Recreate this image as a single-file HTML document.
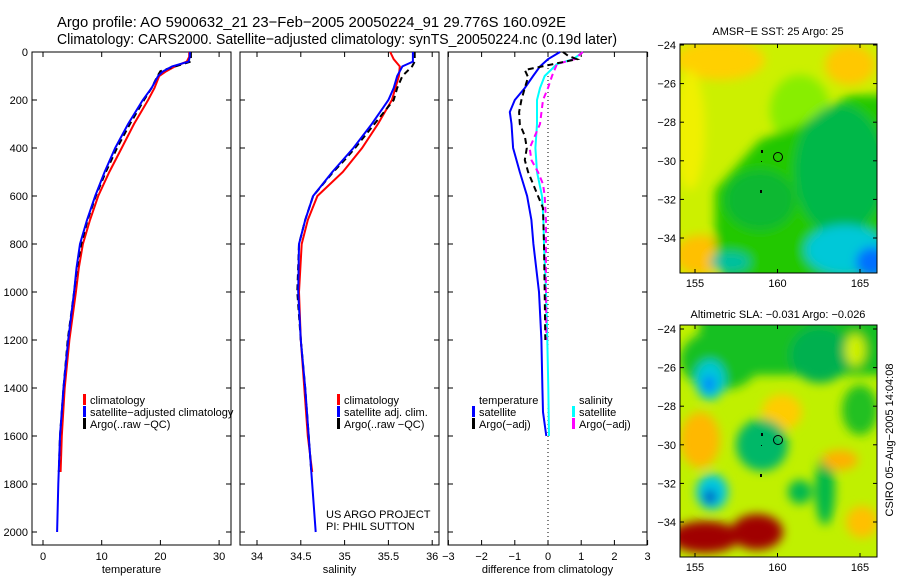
<!DOCTYPE html>
<html><head><meta charset="utf-8">
<style>
html,body{margin:0;padding:0;background:#fff;}
body{width:900px;height:580px;overflow:hidden;font-family:"Liberation Sans",sans-serif;}
svg text{font-family:"Liberation Sans",sans-serif;}
</style></head>
<body>
<svg id="chart" width="900" height="580" viewBox="0 0 900 580" xmlns="http://www.w3.org/2000/svg">
<defs>
<filter id="blur" x="-20%" y="-20%" width="140%" height="140%"><feGaussianBlur stdDeviation="5"/></filter>
<clipPath id="clipMap1"><rect x="680" y="44" width="197" height="229"/></clipPath>
<clipPath id="clipMap2"><rect x="680" y="325" width="197" height="232"/></clipPath>
</defs>
<text x="57" y="27" font-size="15" textLength="509" lengthAdjust="spacingAndGlyphs">Argo profile: AO 5900632_21 23−Feb−2005 20050224_91 29.776S 160.092E</text>
<text x="57" y="44" font-size="15" textLength="560" lengthAdjust="spacingAndGlyphs">Climatology: CARS2000. Satellite−adjusted climatology: synTS_20050224.nc (0.19d later)</text>

<!-- top map -->
<g>
<g clip-path="url(#clipMap1)">
<rect x="680" y="44" width="197" height="229" fill="#ccf000"/>
<g filter="url(#blur)">
<ellipse cx="720" cy="60" rx="45" ry="20" fill="#ffd000"/>
<ellipse cx="850" cy="65" rx="25" ry="20" fill="#ffc800"/>
<ellipse cx="690" cy="130" rx="15" ry="60" fill="#f0f000"/>
<ellipse cx="700" cy="255" rx="25" ry="20" fill="#ffc000"/>
<ellipse cx="800" cy="110" rx="30" ry="35" fill="#88ee00"/>
<polygon points="715,190 760,140 800,125 850,95 890,95 890,290 730,290 715,260" fill="#22c800"/>
<ellipse cx="840" cy="170" rx="45" ry="65" fill="#00b848"/>
<ellipse cx="760" cy="200" rx="35" ry="30" fill="#10b830"/>
<ellipse cx="845" cy="250" rx="40" ry="25" fill="#00c8d8"/>
<ellipse cx="872" cy="262" rx="16" ry="15" fill="#0070ff"/>
<ellipse cx="730" cy="262" rx="20" ry="10" fill="#00c0a0"/>
</g>
<circle cx="778" cy="157" r="4.5" fill="none" stroke="#000"/>
<rect x="761" y="150" width="2" height="3" fill="#000"/><rect x="761" y="161" width="1" height="1" fill="#000"/>
<rect x="760" y="190" width="2" height="3" fill="#000"/>
</g>
<rect x="680" y="44" width="197" height="229" fill="none" stroke="#000"/>
<text x="778" y="35" font-size="11" text-anchor="middle">AMSR−E SST: 25 Argo: 25</text>
</g>

<!-- bottom map -->
<g>
<g clip-path="url(#clipMap2)">
<rect x="680" y="325" width="197" height="232" fill="#c0f000"/>
<g filter="url(#blur)">
<rect x="700" y="315" width="190" height="60" fill="#18c020"/>
<ellipse cx="720" cy="360" rx="40" ry="30" fill="#18c020"/>
<ellipse cx="820" cy="355" rx="30" ry="28" fill="#00b050"/>
<ellipse cx="855" cy="350" rx="10" ry="16" fill="#d0f000"/>
<ellipse cx="782" cy="412" rx="20" ry="18" fill="#ffcc00"/>
<ellipse cx="700" cy="440" rx="20" ry="28" fill="#ffb800"/>
<ellipse cx="710" cy="380" rx="15" ry="20" fill="#00c8d8"/>
<ellipse cx="709" cy="384" rx="6" ry="8" fill="#0080ff"/>
<ellipse cx="762" cy="445" rx="26" ry="26" fill="#00b868"/>
<ellipse cx="712" cy="492" rx="16" ry="18" fill="#00c8e0"/>
<ellipse cx="710" cy="497" rx="6" ry="7" fill="#0030c0"/>
<ellipse cx="800" cy="492" rx="12" ry="12" fill="#00b850"/>
<ellipse cx="825" cy="490" rx="10" ry="35" fill="#00b848"/>
<ellipse cx="860" cy="410" rx="18" ry="25" fill="#20c020"/>
<ellipse cx="840" cy="460" rx="18" ry="10" fill="#ffb000"/>
<ellipse cx="862" cy="522" rx="16" ry="16" fill="#ffc000"/>
<ellipse cx="705" cy="537" rx="35" ry="16" fill="#a00000"/>
<ellipse cx="757" cy="532" rx="26" ry="18" fill="#a00000"/>
</g>
<circle cx="778" cy="440" r="4.5" fill="none" stroke="#000"/>
<rect x="761" y="433" width="2" height="3" fill="#000"/><rect x="761" y="445" width="1" height="1" fill="#000"/>
<rect x="760" y="474" width="2" height="3" fill="#000"/>
</g>
<rect x="680" y="325" width="197" height="232" fill="none" stroke="#000"/>
<text x="778" y="318" font-size="11" text-anchor="middle">Altimetric SLA: −0.031 Argo: −0.026</text>
</g>
<text x="0" y="0" font-size="11" text-anchor="middle" transform="translate(893,440) rotate(-90)">CSIRO 05−Aug−2005 14:04:08</text>
<g id="maps-axes"></g>
<g id="panels"></g>
</svg>
<script>
// ===== data =====
const tDepthClim = [0,20,40,60,80,100,150,200,300,400,500,600,700,800,900,1000,1200,1400,1600,1750];
const tempClim =   [24.9,24.9,24.5,22.5,21,19.8,19,17.9,15.5,13.4,11.3,9.4,8.0,6.8,6.1,5.6,4.5,3.7,3.2,3.0];
const tDepthSat =  [0,20,40,60,80,100,150,200,300,400,500,600,700,800,900,1000,1200,1400,1600,1800,2000];
const tempSat =    [25,25,24.8,22,20.5,19.6,18.5,17,14.5,12.3,10.5,8.9,7.5,6.3,5.7,5.3,4.3,3.5,2.9,2.6,2.4];
const tDepthArgo = [0,20,40,60,80,100,150,200,300,400,500,600,700,800,900,1000,1200,1400,1600,1750];
const tempArgo =   [25.2,25.2,25.2,22.5,20,19.5,18.5,17.2,14.8,12.6,10.7,9.0,7.6,6.5,5.8,5.3,4.2,3.5,2.9,2.7];

const sDepthClim = [0,30,60,100,150,200,300,400,500,600,700,800,1000,1200,1400,1600,1750];
const salClim =    [35.52,35.56,35.63,35.62,35.58,35.54,35.38,35.2,34.98,34.69,34.58,34.51,34.48,34.5,34.54,34.58,34.63];
const sDepthSat =  [0,40,60,100,150,200,300,400,500,600,700,800,1000,1200,1400,1600,1800,2000];
const salSat =     [35.78,35.78,35.66,35.6,35.56,35.5,35.31,35.1,34.86,34.64,34.55,34.48,34.47,34.5,34.55,34.59,34.63,34.67];
const sDepthArgo = [0,40,60,100,150,200,300,400,450,500,600,700,800,1000,1200,1400,1600,1750];
const salArgo =    [35.8,35.8,35.77,35.66,35.6,35.56,35.34,35.12,35.0,34.87,34.64,34.55,34.48,34.46,34.5,34.55,34.59,34.62];

const dDepthTS = [0,30,60,100,150,200,250,300,400,500,600,700,800,1000,1200,1400,1500,1600];
const diffTempSat = [0.36,0,-0.24,-0.45,-0.7,-1.0,-1.15,-1.1,-1.05,-0.85,-0.63,-0.5,-0.44,-0.27,-0.2,-0.17,-0.15,-0.05];
const dDepthSS = [0,30,50,100,150,200,250,300,400,500,600,700,800,1000,1200,1400,1600];
const diffSalSat = [1.05,0.76,0.27,-0.1,-0.24,-0.33,-0.33,-0.33,-0.38,-0.33,-0.18,-0.14,-0.12,-0.06,-0.02,0.01,0.03];
const dDepthTA = [0,15,30,75,105,150,200,250,300,350,400,450,500,550,600,650,800,1000,1200];
const diffTempArgo = [0.45,0.6,0.87,-0.7,-0.6,-0.7,-0.8,-0.87,-0.85,-0.7,-0.64,-0.7,-0.6,-0.45,-0.3,-0.15,-0.12,-0.1,-0.08];
const dDepthSA = [0,30,50,100,150,200,300,400,450,500,550,600,700,1000,1200];
const diffSalArgo = [1.05,0.8,0.27,0.12,0,-0.15,-0.24,-0.55,-0.5,-0.3,-0.15,-0.1,-0.06,-0.06,-0.05];

const depthTicks = [0,200,400,600,800,1000,1200,1400,1600,1800,2000];
const tempTicks = [0,10,20,30];
const salTicks = [34,34.5,35,35.5,36];
const diffTicks = [-3,-2,-1,0,1,2,3];
const lonTicks = [155,160,165];
const latTicks = [-24,-26,-28,-30,-32,-34];

// ===== scales =====
const TOP=52, BOT=545;
const yD = d => TOP + d*0.24;
const xT = t => 43 + t*5.87;
const xS = s => 257 + (s-34)*87.6;
const xDf = v => 548 + v*33.2;
const NS='http://www.w3.org/2000/svg';
const panels=document.getElementById('panels');
function mk(tag, attrs, parent){const e=document.createElementNS(NS,tag);for(const k in attrs)e.setAttribute(k,attrs[k]);(parent||panels).appendChild(e);return e;}

function drawLine(xs, ds, xf, color, dash, name){
  let p='';
  for(let i=0;i<xs.length;i++){p+=(i?'L':'M')+xf(xs[i]).toFixed(1)+','+yD(ds[i]).toFixed(1);}
  const e=mk('path',{d:p,fill:'none',stroke:color,'stroke-width':2});
  if(dash) e.setAttribute('stroke-dasharray',dash);
  
  
}
function panel(x0,x1,ticks,xf,xlabel,name,leftLabels){
  const g=mk('g',{});
  
  
  mk('rect',{x:x0,y:TOP,width:x1-x0,height:BOT-TOP,fill:'none',stroke:'#000'},g);
  depthTicks.forEach(d=>{
    mk('line',{x1:x0,x2:x0+5,y1:yD(d),y2:yD(d),stroke:'#000'},g);
    mk('line',{x1:x1-5,x2:x1,y1:yD(d),y2:yD(d),stroke:'#000'},g);
    if(leftLabels){const t=mk('text',{x:x0-4,y:yD(d)+4,'font-size':11,'text-anchor':'end'},g);t.textContent=d;
      
      }
  });
  ticks.forEach(v=>{
    const x=xf(v);
    mk('line',{x1:x,x2:x,y1:BOT,y2:BOT-5,stroke:'#000'},g);
    mk('line',{x1:x,x2:x,y1:TOP,y2:TOP+5,stroke:'#000'},g);
    const t=mk('text',{x:x,y:BOT+15,'font-size':11,'text-anchor':'middle'},g);
    t.textContent=(v<0?'−'+(-v):v);
    
    
  });
  const l=mk('text',{x:(x0+x1)/2,y:BOT+28,'font-size':11,'text-anchor':'middle'},g);
  l.textContent=xlabel;
  
  
}
panel(32,231,tempTicks,xT,'temperature','temperature-panel',true);
panel(240,439,salTicks,xS,'salinity','salinity-panel',false);
panel(448,647,diffTicks,xDf,'difference from climatology','difference-panel',false);

// zero line
const z=mk('line',{x1:xDf(0),x2:xDf(0),y1:TOP,y2:BOT,stroke:'#000','stroke-dasharray':'1,3'});



drawLine(tempClim,tDepthClim,xT,'#f00',null,'temp-climatology-line');
drawLine(tempArgo,tDepthArgo,xT,'#000','6,4','temp-argo-line');
drawLine(tempSat,tDepthSat,xT,'#00f',null,'temp-satellite-line');
drawLine(salClim,sDepthClim,xS,'#f00',null,'sal-climatology-line');
drawLine(salArgo,sDepthArgo,xS,'#000','6,4','sal-argo-line');
drawLine(salSat,sDepthSat,xS,'#00f',null,'sal-satellite-line');
drawLine(diffSalSat,dDepthSS,xDf,'#0ff',null,'diff-sal-satellite-line');
drawLine(diffSalArgo,dDepthSA,xDf,'#f0f','6,4','diff-sal-argo-line');
drawLine(diffTempSat,dDepthTS,xDf,'#00f',null,'diff-temp-satellite-line');
drawLine(diffTempArgo,dDepthTA,xDf,'#000','6,4','diff-temp-argo-line');

function legend(x,y,color,label,name){
  if(color){const r=mk('rect',{x:x,y:y-10,width:3,height:11,fill:color});
    
    }
  const t=mk('text',{x:x+7,y:y,'font-size':11});
  t.textContent=label;
  
  
}
legend(83,404,'#f00','climatology','legend-climatology');
legend(83,416,'#00f','satellite−adjusted climatology','legend-satellite');
legend(83,428,'#000','Argo(..raw −QC)','legend-argo');
legend(337,404,'#f00','climatology','legend-sal-climatology');
legend(337,416,'#00f','satellite adj. clim.','legend-sal-satellite');
legend(337,428,'#000','Argo(..raw −QC)','legend-sal-argo');
legend(472,404,null,'temperature','legend-diff-temp-heading');
legend(472,416,'#00f','satellite','legend-diff-temp-satellite');
legend(472,428,'#000','Argo(−adj)','legend-diff-temp-argo');
legend(572,404,null,'salinity','legend-diff-sal-heading');
legend(572,416,'#0ff','satellite','legend-diff-sal-satellite');
legend(572,428,'#f0f','Argo(−adj)','legend-diff-sal-argo');
const c1=mk('text',{x:326,y:518,'font-size':11});c1.textContent='US ARGO PROJECT';


const c2=mk('text',{x:326,y:530,'font-size':11});c2.textContent='PI: PHIL SUTTON';



// map axes
const ma=document.getElementById('maps-axes');
const xLon = l => 695 + (l-155)*16.5;
function mapAxes(top,bottom,lat0y){
  lonTicks.forEach(l=>{
    const x=xLon(l);
    mk('line',{x1:x,x2:x,y1:bottom,y2:bottom-4,stroke:'#000'},ma);
    mk('line',{x1:x,x2:x,y1:top,y2:top+4,stroke:'#000'},ma);
    const t=mk('text',{x:x,y:bottom+14,'font-size':11,'text-anchor':'middle'},ma);t.textContent=l;
    
    
  });
  latTicks.forEach(la=>{
    const y=lat0y + (-24-la)*19.3;
    mk('line',{x1:680,x2:684,y1:y,y2:y,stroke:'#000'},ma);
    mk('line',{x1:873,x2:877,y1:y,y2:y,stroke:'#000'},ma);
    const t=mk('text',{x:676,y:y+4,'font-size':11,'text-anchor':'end'},ma);t.textContent='−'+(-la);
    
    
  });
}
mapAxes(44,273,45);
mapAxes(325,557,329);
</script>
</body></html>
